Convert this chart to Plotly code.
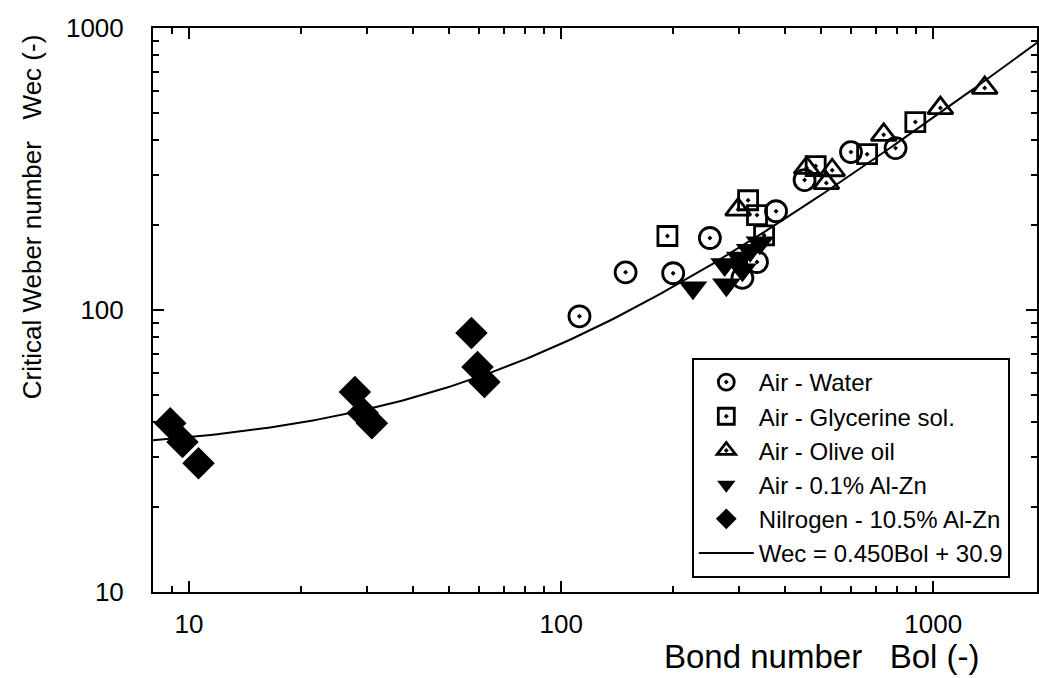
import numpy as np
import plotly.graph_objects as go

# ---- data ----
water_bol = [112, 149, 200, 251, 307, 336, 378, 451, 601, 792]
water_wec = [95, 136, 135, 180, 130, 148, 224, 289, 363, 375]

glyc_bol = [193, 318, 336, 351, 483, 664, 895]
glyc_wec = [183, 245, 217, 184, 324, 357, 464]

olive_bol = [299, 457, 516, 535, 736, 1045, 1375]
olive_wec = [227, 319, 282, 313, 418, 520, 613]

alzn_bol = [226, 278, 275, 303, 322, 342, 307]
alzn_wec = [120, 123, 145, 153, 163, 173, 139]

n2_bol = [8.9, 9.6, 10.6, 27.9, 29.3, 31.0, 57.4, 59.6, 62.2]
n2_wec = [39.7, 34.0, 28.6, 51.2, 43.1, 39.7, 82.8, 62.8, 55.6]

fit_slope = 0.450
fit_intercept = 30.9
fit_bol = np.logspace(np.log10(8.0), np.log10(1900), 200)
fit_wec = fit_slope * fit_bol + fit_intercept

x_ticks = [10, 100, 1000]
y_ticks = [10, 100, 1000]

FONT = "Liberation Sans, Arial, Helvetica, sans-serif"

fig = go.Figure()

fig.add_trace(go.Scatter(
    x=fit_bol, y=fit_wec, mode="lines", name="Wec = 0.450Bol + 30.9",
    legendgroup="g6", legendrank=1006,
    line=dict(color="black", width=2), showlegend=True))


def add(name, x, y, symbol, size, filled, group, rank):
    fig.add_trace(go.Scatter(
        x=x, y=y, mode="markers", name=name, legendgroup=group, legendrank=rank,
        marker=dict(symbol=symbol, size=size, color="black",
                    line=dict(color="black", width=0 if filled else 2.8)),
    ))


add("Air - Water", water_bol, water_wec, "circle-open-dot", 21, False, "g1", 1000)
add("Air - Glycerine sol.", glyc_bol, glyc_wec, "square-open-dot", 19, False, "g2", 1001)
add("Air - Olive oil", olive_bol, olive_wec, "triangle-up-open-dot", 22, False, "g3", 1002)
add("Air - 0.1% Al-Zn", alzn_bol, alzn_wec, "triangle-down", 25, True, "g4", 1003)
add("Nilrogen - 10.5% Al-Zn", n2_bol, n2_wec, "diamond", 25, True, "g5", 1004)

minor_x = [v * m for v in [1, 10, 100, 1000] for m in range(2, 10)]
minor_y = [v * m for v in [10, 100] for m in range(2, 10)]

axis_common = dict(
    type="log", showgrid=False, zeroline=False,
    showline=True, linecolor="black", linewidth=2, mirror="ticks",
    ticks="inside", ticklen=11, tickwidth=2, tickcolor="black",
    tickfont=dict(family=FONT, size=26, color="black"),
)

fig.update_xaxes(
    **axis_common,
    range=[np.log10(8.0), 3.2788],
    tickvals=x_ticks, ticktext=[str(t) for t in x_ticks],
    ticklabelstandoff=8,
    minor=dict(tickvals=minor_x, ticks="inside", ticklen=6, tickwidth=1.5,
               tickcolor="black", showgrid=False),
)
fig.update_yaxes(
    **axis_common,
    range=[1, 3],
    tickvals=y_ticks, ticktext=[str(t) for t in y_ticks],
    ticklabelstandoff=22,
    minor=dict(tickvals=minor_y, ticks="inside", ticklen=6, tickwidth=1.5,
               tickcolor="black", showgrid=False),
)

fig.update_layout(
    width=1039, height=678,
    margin=dict(l=153, r=0, t=28, b=86),
    paper_bgcolor="white", plot_bgcolor="white",
    font=dict(family=FONT, color="black"),
    showlegend=True,
    legend=dict(
        x=0.6095, y=0.415, xanchor="left", yanchor="top",
        bgcolor="white", bordercolor="black", borderwidth=2,
        font=dict(family=FONT, size=24, color="black"),
        tracegroupgap=0, itemsizing="trace", itemwidth=55,
    ),
    annotations=[
        dict(text="Critical Weber number   Wec (-)", xref="paper", yref="paper",
             x=-153 / 886 + 32 / 886, y=(592 - 217) / 564, textangle=-90,
             showarrow=False, xanchor="center", yanchor="middle",
             font=dict(family=FONT, size=26, color="black")),
        dict(text="Bond number   Bol (-)", xref="paper", yref="paper",
             x=(823 - 153) / 886, y=-(656 - 592) / 564,
             showarrow=False, xanchor="center", yanchor="middle",
             font=dict(family=FONT, size=33, color="black")),
    ],
)

fig.write_html("out.html")
